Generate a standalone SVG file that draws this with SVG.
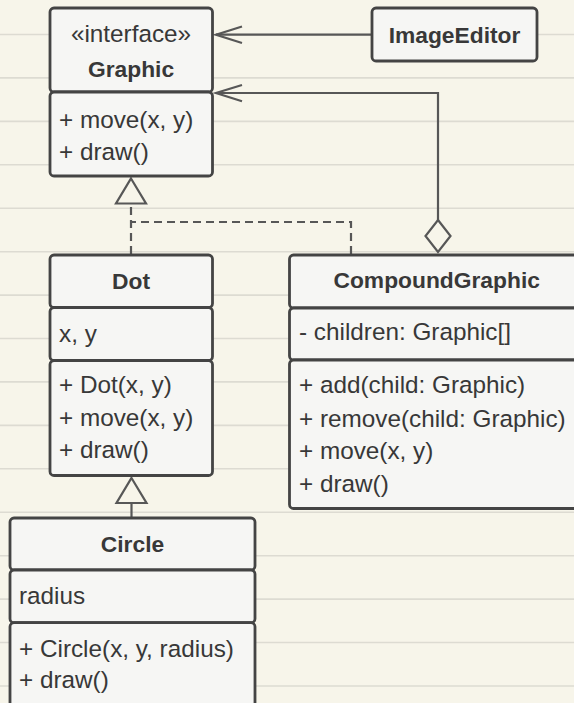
<svg xmlns="http://www.w3.org/2000/svg" width="574" height="703" viewBox="0 0 574 703">
  <style>
    .rule { stroke: #dddbd2; stroke-width: 1.6; }
    .box { fill: #f6f6f4; stroke: #444444; stroke-width: 2.8; }
    .t { font-family: "Liberation Sans", Arial, sans-serif; font-size: 24.3px; fill: #383838; }
    .b { font-family: "Liberation Sans", Arial, sans-serif; font-size: 22.8px; font-weight: bold; fill: #383838; text-anchor: middle; }
    .c { text-anchor: middle; }
    .line { fill: none; stroke: #575757; stroke-width: 2.2; }
    .dash { fill: none; stroke: #575757; stroke-width: 2.2; stroke-dasharray: 8 5; }
    .hollow { fill: #f7f5ea; stroke: #575757; stroke-width: 2.2; stroke-linejoin: miter; }
  </style>

  <!-- ruled paper background -->
  <rect x="0" y="0" width="574" height="703" fill="#f7f5ea"/>
  <g id="paper-rules">
    <line class="rule" x1="0" y1="34.5" x2="574" y2="34.5"/>
    <line class="rule" x1="0" y1="77.9" x2="574" y2="77.9"/>
    <line class="rule" x1="0" y1="121.4" x2="574" y2="121.4"/>
    <line class="rule" x1="0" y1="164.8" x2="574" y2="164.8"/>
    <line class="rule" x1="0" y1="208.2" x2="574" y2="208.2"/>
    <line class="rule" x1="0" y1="251.7" x2="574" y2="251.7"/>
    <line class="rule" x1="0" y1="295.1" x2="574" y2="295.1"/>
    <line class="rule" x1="0" y1="338.5" x2="574" y2="338.5"/>
    <line class="rule" x1="0" y1="381.9" x2="574" y2="381.9"/>
    <line class="rule" x1="0" y1="425.4" x2="574" y2="425.4"/>
    <line class="rule" x1="0" y1="468.8" x2="574" y2="468.8"/>
    <line class="rule" x1="0" y1="512.2" x2="574" y2="512.2"/>
    <line class="rule" x1="0" y1="555.7" x2="574" y2="555.7"/>
    <line class="rule" x1="0" y1="599.1" x2="574" y2="599.1"/>
    <line class="rule" x1="0" y1="642.5" x2="574" y2="642.5"/>
    <line class="rule" x1="0" y1="686.0" x2="574" y2="686.0"/>
  </g>

  <!-- connectors -->
  <g id="connectors">
    <!-- ImageEditor uses Graphic -->
    <line class="line" x1="372" y1="34.7" x2="216" y2="34.7"/>
    <polyline class="line" points="242,26.5 216,34.7 242,43"/>
    <!-- CompoundGraphic aggregates Graphic -->
    <polyline class="line" points="438,221 438,93 216,93"/>
    <polyline class="line" points="242,85 216,93 242,101.3"/>
    <polygon class="hollow" points="438,220 450.5,236 438,252 425.5,236"/>
    <!-- Dot and CompoundGraphic implement Graphic -->
    <polyline class="dash" points="351,254 351,222 131,222"/>
    <line class="dash" x1="131" y1="254" x2="131" y2="203.5"/>
    <polygon class="hollow" points="131,178.5 146,203.5 116,203.5"/>
    <!-- Circle extends Dot -->
    <line class="line" x1="131.5" y1="517" x2="131.5" y2="503"/>
    <polygon class="hollow" points="131.5,478 146.5,503 116.5,503"/>
  </g>

  <g id="graphic">
    <rect class="box" x="50" y="8" width="162.5" height="84" rx="4"/>
    <rect class="box" x="50" y="92" width="162.5" height="84" rx="4"/>
    <text class="t c" x="131" y="42">«interface»</text>
    <text class="b" x="131" y="77">Graphic</text>
    <text class="t" x="59" y="128">+ move(x, y)</text>
    <text class="t" x="59" y="160">+ draw()</text>
  </g>

  <g id="image-editor">
    <rect class="box" x="372" y="8" width="165" height="53" rx="4"/>
    <text class="b" x="454.5" y="43">ImageEditor</text>
  </g>

  <g id="dot">
    <rect class="box" x="50" y="255" width="162.5" height="52.5" rx="4"/>
    <rect class="box" x="50" y="307.5" width="162.5" height="53" rx="4"/>
    <rect class="box" x="50" y="360.5" width="162.5" height="115" rx="4"/>
    <text class="b" x="131" y="289">Dot</text>
    <text class="t" x="59" y="341.5">x, y</text>
    <text class="t" x="59" y="393">+ Dot(x, y)</text>
    <text class="t" x="59" y="426">+ move(x, y)</text>
    <text class="t" x="59" y="458">+ draw()</text>
  </g>

  <g id="compound-graphic">
    <rect class="box" x="289.5" y="255" width="300" height="53" rx="4"/>
    <rect class="box" x="289.5" y="308" width="300" height="52" rx="4"/>
    <rect class="box" x="289.5" y="360" width="300" height="148.5" rx="4"/>
    <text class="b" x="436.7" y="288">CompoundGraphic</text>
    <text class="t" x="299" y="340">- children: Graphic[]</text>
    <text class="t" x="299" y="393.3">+ add(child: Graphic)</text>
    <text class="t" x="299" y="426.5">+ remove(child: Graphic)</text>
    <text class="t" x="299" y="459">+ move(x, y)</text>
    <text class="t" x="299" y="491.5">+ draw()</text>
  </g>

  <g id="circle">
    <rect class="box" x="10" y="518" width="245" height="52" rx="4"/>
    <rect class="box" x="10" y="570" width="245" height="52.7" rx="4"/>
    <rect class="box" x="10" y="622.7" width="245" height="95" rx="4"/>
    <text class="b" x="132.5" y="551.7">Circle</text>
    <text class="t" x="19" y="604.3">radius</text>
    <text class="t" x="19" y="656.7">+ Circle(x, y, radius)</text>
    <text class="t" x="19" y="688.3">+ draw()</text>
  </g>
</svg>
